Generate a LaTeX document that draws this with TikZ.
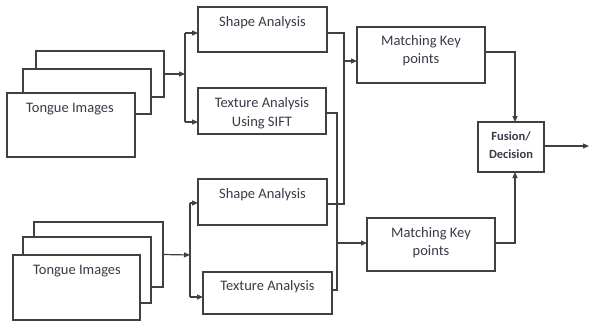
\documentclass[tikz,border=0pt]{standalone}
\usepackage{fontspec}
\setmainfont{Carlito}
\usetikzlibrary{arrows.meta}
\definecolor{linec}{RGB}{64,64,64}
\definecolor{txtc}{RGB}{58,58,72}
\tikzset{
  box/.style={draw=linec, line width=1.3pt, fill=white, inner sep=0pt, outer sep=0pt},
  lbl/.style={anchor=base, inner sep=0pt, text=txtc, font=\fontsize{14.5}{19}\selectfont},
  blbl/.style={anchor=base, inner sep=0pt, text=txtc, font=\fontsize{12.5}{17}\selectfont\bfseries},
  wire/.style={draw=linec, line width=1.2pt},
  arr/.style={wire, -{Triangle[length=6pt,width=5pt]}}
}
\begin{document}
\begin{tikzpicture}[x=1pt,y=-1pt]
\useasboundingbox (0,0) rectangle (589,322);

% upper stack of tongue images
\node[box, minimum width=128, minimum height=46] (st1c) at (100,74) {};
\node[box, minimum width=128, minimum height=45] (st1b) at (87,91.5) {};
\node[box, minimum width=128, minimum height=64] (st1a) at (71,125) {};
\node[lbl] (t1) at (70,112) {Tongue Images};

% lower stack of tongue images
\node[box, minimum width=129, minimum height=65] (st2c) at (98.5,254.5) {};
\node[box, minimum width=128, minimum height=66] (st2b) at (87,270) {};
\node[box, minimum width=127, minimum height=65] (st2a) at (76.5,287.5) {};
\node[lbl] (t2) at (77,274) {Tongue Images};

% analysis boxes
\node[box, minimum width=129, minimum height=45] (sa1) at (262.5,29.5) {};
\node[lbl] (tsa1) at (262.5,26) {Shape Analysis};
\node[box, minimum width=128, minimum height=46] (ta1) at (262,111) {};
\node[lbl] (tta1a) at (262,107) {Texture Analysis};
\node[lbl] (tta1b) at (262,126) {Using SIFT};
\node[box, minimum width=129, minimum height=46] (sa2) at (262.5,202) {};
\node[lbl] (tsa2) at (262.5,198) {Shape Analysis};
\node[box, minimum width=129, minimum height=42] (ta2) at (267.5,293) {};
\node[lbl] (tta2) at (267.5,290) {Texture Analysis};

% matching boxes
\node[box, minimum width=128, minimum height=56] (mk1) at (421,55) {};
\node[lbl] (tmk1a) at (421,45) {Matching Key};
\node[lbl] (tmk1b) at (421,63) {points};
\node[box, minimum width=128, minimum height=53] (mk2) at (431,244.5) {};
\node[lbl] (tmk2a) at (431,237) {Matching Key};
\node[lbl] (tmk2b) at (431,255) {points};

% fusion box
\node[box, minimum width=66, minimum height=50] (fd) at (511,147) {};
\node[blbl] (tfd1) at (511,140) {Fusion/};
\node[blbl] (tfd2) at (511,158) {Decision};

% junction points
\coordinate (ja) at (185,74);
\coordinate (jat) at (185,33);
\coordinate (jab) at (185,122);
\coordinate (jb) at (190,255);
\coordinate (jbt) at (190,203);
\coordinate (jbb) at (190,297);
\coordinate (ks) at (344,33);
\coordinate (ks2) at (344,204);
\coordinate (km1) at (344,61);
\coordinate (kt) at (337,113);
\coordinate (kt2) at (337,290);
\coordinate (km2) at (337,243);
\coordinate (f1) at (515,52);
\coordinate (f2) at (515,243);
\coordinate (out) at (589,146);

% upper split
\draw[arr] (st1c.east) -- (ja);
\draw[wire] (jat) -- (jab);
\draw[arr] (jat) -- (jat -| sa1.west);
\draw[arr] (jab) -- (jab -| ta1.west);

% lower split
\draw[arr] (st2c.east) -- (jb);
\draw[wire] (jbt) -- (jbb);
\draw[arr] (jbt) -- (jbt -| sa2.west);
\draw[arr] (jbb) -- (jbb -| ta2.west);

% shape outputs to first matcher
\draw[wire] (ks -| sa1.east) -- (ks) -- (ks2) -- (ks2 -| sa2.east);
\draw[arr] (km1) -- (km1 -| mk1.west);

% texture outputs to second matcher
\draw[wire] (kt -| ta1.east) -- (kt) -- (kt2) -- (kt2 -| ta2.east);
\draw[arr] (km2) -- (km2 -| mk2.west);

% matchers into fusion
\draw[arr] (f1 -| mk1.east) -- (f1) -- (f1 |- fd.north);
\draw[arr] (f2 -| mk2.east) -- (f2) -- (f2 |- fd.south);
\draw[arr] (fd.east |- out) -- (out);
\end{tikzpicture}
\end{document}
